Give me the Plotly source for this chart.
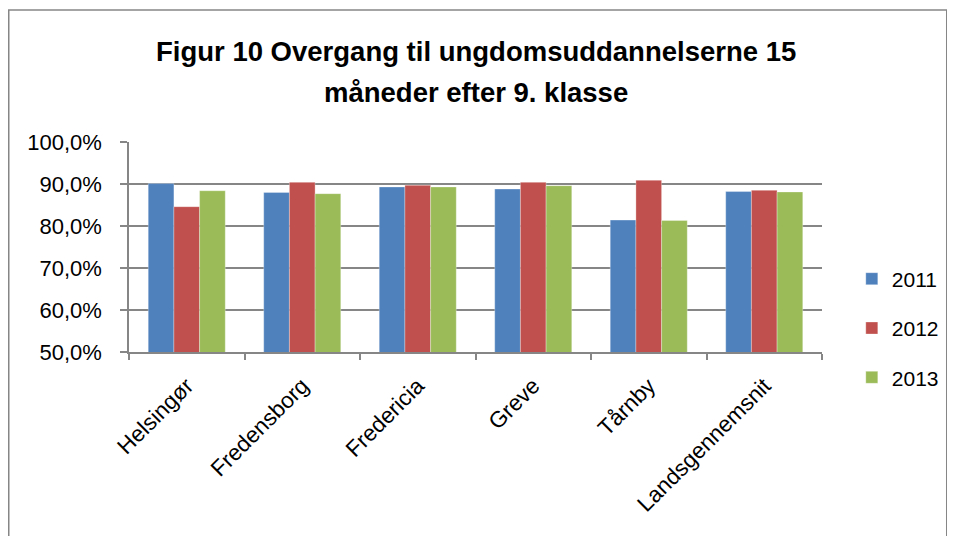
import plotly.graph_objects as go

categories = ["Helsingør", "Fredensborg", "Fredericia", "Greve", "Tårnby", "Landsgennemsnit"]
years = ["2011", "2012", "2013"]
v2011 = [90.1, 88.0, 89.3, 88.8, 81.4, 88.2]
v2012 = [84.6, 90.4, 89.7, 90.4, 90.9, 88.5]
v2013 = [88.4, 87.7, 89.3, 89.6, 81.3, 88.1]
series = [v2011, v2012, v2013]
colors = ["#4F81BD", "#C0504D", "#9BBB59"]
y_ticks = [50, 60, 70, 80, 90, 100]
y_tick_text = ["50,0%", "60,0%", "70,0%", "80,0%", "90,0%", "100,0%"]
title_lines = ["Figur 10 Overgang til ungdomsuddannelserne 15", "måneder efter 9. klasse"]

FONT = "Liberation Sans"
GRAY = "#868686"
fig = go.Figure()
for name, vals, col in zip(years, series, colors):
    fig.add_trace(go.Bar(
        x=categories, y=vals, name=name, legendgroup=name,
        marker=dict(color=col, line=dict(width=0.5, color="rgba(255,255,255,0.6)")),
    ))

fig.update_layout(
    width=955, height=536,
    margin=dict(l=121, r=141, t=134, b=192),
    paper_bgcolor="white", plot_bgcolor="white",
    barmode="group", bargap=0.333, bargroupgap=0,
    font=dict(family=FONT, color="black"),
    showlegend=True,
    legend=dict(
        x=1.043, xanchor="left", y=0.114, yanchor="middle",
        font=dict(family=FONT, size=21, color="black"),
        tracegroupgap=19, bgcolor="rgba(0,0,0,0)",
    ),
    xaxis=dict(
        type="category", tickangle=-45, tickson="boundaries",
        ticks="outside", ticklen=6, tickcolor=GRAY, tickwidth=1.5,
        showline=True, linecolor=GRAY, linewidth=1.5,
        tickfont=dict(family=FONT, size=22.5, color="black"),
        ticklabelstandoff=10,
        showgrid=False,
    ),
    yaxis=dict(
        range=[50, 100], tickvals=y_ticks, ticktext=y_tick_text,
        ticks="outside", ticklen=7, tickcolor=GRAY, tickwidth=1.5,
        showline=True, linecolor=GRAY, linewidth=1.5,
        showgrid=True, gridcolor=GRAY, gridwidth=1.5,
        tickfont=dict(family=FONT, size=22, color="black"),
        ticklabelstandoff=14,
        zeroline=False,
    ),
)

for txt, yy in zip(title_lines, [1.43, 1.235]):
    fig.add_annotation(text="<b>" + txt + "</b>", xref="paper", yref="paper",
                       x=0.5, y=yy, xanchor="center", yanchor="middle",
                       showarrow=False, font=dict(family=FONT, size=27.5, color="black"))

fig.add_shape(type="rect", xref="paper", yref="paper",
              x0=-0.1735, x1=1.18, y0=-1.2, y1=1.629,
              line=dict(color=GRAY, width=1.5), layer="below")

fig.write_html("out.html")
